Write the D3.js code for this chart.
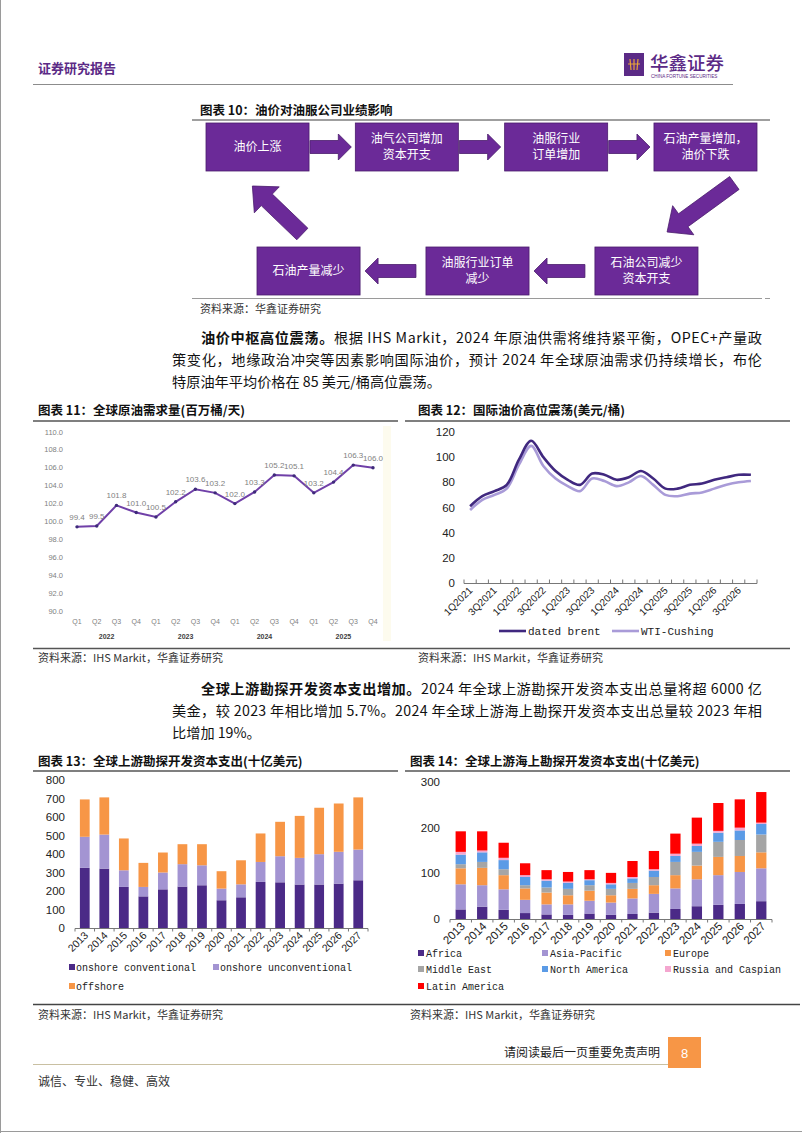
<!DOCTYPE html>
<html><head><meta charset="utf-8">
<script src="https://cdn.jsdelivr.net/npm/d3@7"></script>
<style>
body{margin:0;background:#fff;}
svg{display:block;font-family:"Noto Sans CJK SC","Liberation Sans",sans-serif;}
</style></head><body>
<svg id="page" width="802" height="1133"></svg>
<script>
// ---------------- DATA ----------------
const flowTop = ["油价上涨", "油气公司增加\n资本开支", "油服行业\n订单增加", "石油产量增加，\n油价下跌"];
const flowBottom = ["石油产量减少", "油服行业订单\n减少", "石油公司减少\n资本开支"];

const demandQuarters = ["Q1","Q2","Q3","Q4","Q1","Q2","Q3","Q4","Q1","Q2","Q3","Q4","Q1","Q2","Q3","Q4"];
const demandYears = ["2022","2023","2024","2025"];
const demandValues = [99.4,99.5,101.8,101.0,100.5,102.2,103.6,103.2,102.0,103.3,105.2,105.1,103.2,104.4,106.3,106.0];
const demandTicks = [90,92,94,96,98,100,102,104,106,108,110];

const priceQuarters = ["1Q2021","2Q2021","3Q2021","4Q2021","1Q2022","2Q2022","3Q2022","4Q2022",
  "1Q2023","2Q2023","3Q2023","4Q2023","1Q2024","2Q2024","3Q2024","4Q2024",
  "1Q2025","2Q2025","3Q2025","4Q2025","1Q2026","2Q2026","3Q2026","4Q2026"];
const brentValues = [61,69,73,78,98,113,100,89,82,78,87,86,82,84,89,83,75,75,78,79,82,84,86,86];
const wtiValues   = [58,66,70,75,94,109,93,83,77,73,83,81,77,80,85,78,70,69,71,72,75,78,80,81];
const priceTicks = [0,20,40,60,80,100,120];
const priceSeriesNames = ["dated brent","WTI-Cushing"];

const capexYears = ["2013","2014","2015","2016","2017","2018","2019","2020","2021","2022","2023","2024","2025","2026","2027"];
const onshoreConventional   = [325,321,222,171,209,224,231,150,166,249,247,235,235,240,258];
const onshoreUnconventional = [168,184,90,51,91,121,108,63,70,108,141,144,164,172,166];
const offshoreValues        = [202,201,172,130,108,108,114,94,130,154,186,227,251,261,282];
const capexSeriesNames = ["onshore conventional","onshore unconventional","offshore"];
const capexTicks = [0,100,200,300,400,500,600,700,800];

const regionNames = ["Africa","Asia-Pacific","Europe","Middle East","North America","Russia and Caspian","Latin America"];
const africa       = [21,27,20,13,10,9,12,9,11,14,22,28,31,33,39];
const asiaPacific  = [55,47,45,29,22,23,28,27,34,41,45,59,65,70,72];
const europe       = [35,38,31,25,26,20,22,16,21,19,29,30,40,35,35];
const middleEast   = [9,13,13,7,11,14,12,14,13,18,29,30,33,35,39];
const northAmerica = [21,21,20,18,15,13,11,10,10,14,13,13,20,21,23];
const russiaCaspian= [6,4,5,4,3,3,2,3,3,3,5,5,4,6,3];
const latinAmerica = [45,42,33,26,20,21,20,22,35,40,44,57,61,62,67];
const offshoreTicks = [0,100,200,300];

// ---------------- PAGE ----------------
const svg = d3.select("#page");
const PURPLE = "#5B2A86";
const CJK = '"Noto Sans CJK SC","Liberation Sans",sans-serif';
const MONO = '"Liberation Mono","DejaVu Sans Mono",monospace';
const SANS = '"Liberation Sans","DejaVu Sans",sans-serif';

function line(x1,y1,x2,y2,stroke,w){
  svg.append("line").attr("x1",x1).attr("y1",y1).attr("x2",x2).attr("y2",y2)
    .attr("stroke",stroke).attr("stroke-width",w||1);
}
function text(x,y,s,opt){
  opt = opt||{};
  const t = svg.append("text").attr("x",x).attr("y",y).text(s)
    .attr("font-size",opt.size||12).attr("fill",opt.fill||"#222")
    .attr("font-family",opt.family||CJK)
    .attr("font-weight",opt.weight||400)
    .attr("text-anchor",opt.anchor||"start");
  return t;
}

// page border
line(0.5,0,0.5,1133,"#9a9a9a",1);
line(0,1131.5,802,1131.5,"#9a9a9a",1);

// header
text(38,73,"证券研究报告",{size:13,weight:700,fill:PURPLE});
line(33,84.5,733,84.5,"#8c8c8c",1);
svg.append("rect").attr("x",624).attr("y",53).attr("width",20).attr("height",23).attr("fill",PURPLE);
const logo = svg.append("g").attr("stroke","#E8A33A").attr("stroke-width",1.2).attr("fill","none");
logo.append("path").attr("d","M628 64 H640 M630 59 L631 70 M634 59 L634 70 M638 59 L637 70");
text(650,70,"华鑫证券",{size:18.5,weight:500,fill:PURPLE});
text(651,78,"CHINA FORTUNE SECURITIES",{size:4.6,fill:PURPLE,family:SANS});

// ---------------- FLOWCHART ----------------
text(200,115,"图表 10：油价对油服公司业绩影响",{size:12.5,weight:700,fill:"#111"});
line(192,120,770,120,"#7f7f7f",1.5);

const BOX_FILL = "#6B2A98";
const topBand = d3.scaleBand().domain(d3.range(flowTop.length)).range([206,757]).paddingInner(0.31);
const botBand = d3.scaleBand().domain(d3.range(flowBottom.length)).range([257,698]).paddingInner(0.39);
const topY = 123, botY = 247, boxH = 48;

function drawBox(x,y,w,h,label){
  svg.append("rect").attr("x",x).attr("y",y).attr("width",w).attr("height",h)
    .attr("fill",BOX_FILL).attr("stroke","#4a1c6c").attr("stroke-width",0.8);
  const parts = label.split("\n");
  const t = svg.append("text").attr("text-anchor","middle").attr("fill","#fff")
    .attr("font-size",12).attr("font-family",CJK);
  parts.forEach((p,i)=>{
    t.append("tspan").attr("x",x+w/2).attr("y",y+h/2+4+(i-(parts.length-1)/2)*16).text(p);
  });
}
function arrow(x1,y1,x2,y2,sw,hw,hl){
  const dx=x2-x1, dy=y2-y1, L=Math.hypot(dx,dy);
  const ux=dx/L, uy=dy/L, nx=-uy, ny=ux;
  const bx=x2-ux*hl, by=y2-uy*hl;
  const pts=[[x1+nx*sw,y1+ny*sw],[bx+nx*sw,by+ny*sw],[bx+nx*hw,by+ny*hw],[x2,y2],
             [bx-nx*hw,by-ny*hw],[bx-nx*sw,by-ny*sw],[x1-nx*sw,y1-ny*sw]];
  svg.append("path").attr("d","M"+pts.map(p=>p.join(",")).join("L")+"Z")
    .attr("fill",BOX_FILL).attr("stroke","#4a1c6c").attr("stroke-width",0.8);
}
flowTop.forEach((lab,i)=>drawBox(topBand(i),topY,topBand.bandwidth(),boxH,lab));
flowBottom.forEach((lab,i)=>drawBox(botBand(i),botY,botBand.bandwidth(),boxH,lab));
for(let i=0;i<flowTop.length-1;i++){
  arrow(topBand(i)+topBand.bandwidth()+1, topY+boxH/2, topBand(i+1)-4, topY+boxH/2, 6.5,13,13);
}
for(let i=flowBottom.length-1;i>0;i--){
  arrow(botBand(i)-10, botY+boxH/2, botBand(i-1)+botBand.bandwidth()+5, botY+boxH/2, 6.5,13,13);
}
{
  const bw = topBand.bandwidth();
  arrow(topBand(3)+bw*0.78, topY+boxH+12, botBand(2)+botBand.bandwidth()*0.7, botY-15, 8,18,20);
  arrow(botBand(0)+botBand.bandwidth()*0.44, botY-13, topBand(0)+bw*0.45, topY+boxH+15, 8,18,20);
}
line(192,298.5,762,298.5,"#9a9a9a",1);
line(765,298.5,770,298.5,"#9a9a9a",1);
text(200,313,"资料来源：华鑫证券研究",{size:11,fill:"#333"});

// ---------------- PARAGRAPH 1 ----------------
function para(x,y,bold,rest,len){
  const t = svg.append("text").attr("x",x).attr("y",y).attr("font-size",14.2)
    .attr("font-family",CJK).attr("fill","#111");
  if(bold) t.append("tspan").attr("font-weight",700).text(bold);
  t.append("tspan").text(rest);
  if(len) t.attr("textLength",len).attr("lengthAdjust","spacing");
}
para(201,343,"油价中枢高位震荡。","根据 IHS Markit，2024 年原油供需将维持紧平衡，OPEC+产量政",561);
para(172,365,null,"策变化，地缘政治冲突等因素影响国际油价，预计 2024 年全球原油需求仍持续增长，布伦",590);
para(172,387,null,"特原油年平均价格在 85 美元/桶高位震荡。");

// ---------------- CHART 11 ----------------
text(38,415,"图表 11：全球原油需求量(百万桶/天)",{size:12.5,weight:700,fill:"#111"});
line(33,421,398,421,"#555",1.5);
{
  const x = d3.scalePoint().domain(d3.range(demandValues.length)).range([77,373]);
  const y = d3.scaleLinear().domain([90,110]).range([611,432]);
  const g = svg.append("g");
  g.append("rect").attr("x",383).attr("y",426).attr("width",8).attr("height",215).attr("fill","#FDFBEE");
  g.selectAll(".yl").data(demandTicks).join("text")
    .attr("x",63).attr("y",d=>y(d)+2.5).attr("text-anchor","end")
    .attr("font-size",7.5).attr("font-family",SANS).attr("fill","#7f7f7f")
    .text(d=>d3.format(".1f")(d));
  g.selectAll(".xl").data(demandQuarters).join("text")
    .attr("x",(d,i)=>x(i)).attr("y",624).attr("text-anchor","middle")
    .attr("font-size",7).attr("font-family",SANS).attr("fill","#7f7f7f").text(d=>d);
  g.selectAll(".yr").data(demandYears).join("text")
    .attr("x",(d,i)=>(x(i*4)+x(i*4+3))/2).attr("y",639).attr("text-anchor","middle")
    .attr("font-size",7).attr("font-weight",700).attr("font-family",SANS).attr("fill","#404040").text(d=>d);
  g.append("path").datum(demandValues)
    .attr("d",d3.line().x((d,i)=>x(i)).y(d=>y(d)))
    .attr("fill","none").attr("stroke","#7040A8").attr("stroke-width",2);
  g.selectAll(".pt").data(demandValues).join("circle")
    .attr("cx",(d,i)=>x(i)).attr("cy",d=>y(d)).attr("r",1.7).attr("fill","#3E2A7A");
  g.selectAll(".dl").data(demandValues).join("text")
    .attr("x",(d,i)=>x(i)).attr("y",d=>y(d)-7).attr("text-anchor","middle")
    .attr("font-size",8).attr("font-family",SANS).attr("fill","#7f7f7f")
    .text(d=>d3.format(".1f")(d));
}

// ---------------- CHART 12 ----------------
text(418,415,"图表 12：国际油价高位震荡(美元/桶)",{size:12.5,weight:700,fill:"#111"});
line(405,421,790,421,"#555",1.5);
{
  const x = d3.scaleBand().domain(priceQuarters).range([464,757]);
  const y = d3.scaleLinear().domain([0,120]).range([583,432]);
  const g = svg.append("g");
  g.selectAll(".yl").data(priceTicks).join("text")
    .attr("x",455).attr("y",d=>y(d)+4).attr("text-anchor","end")
    .attr("font-size",11.5).attr("font-family",SANS).attr("fill","#222").text(d=>d);
  g.append("line").attr("x1",464).attr("x2",757).attr("y1",583.5).attr("y2",583.5).attr("stroke","#777");
  const bounds = priceQuarters.map(q=>x(q)).concat([757]);
  g.selectAll(".tk").data(bounds).join("line")
    .attr("x1",d=>d).attr("x2",d=>d).attr("y1",583.5).attr("y2",579.5).attr("stroke","#777");
  g.selectAll(".xl").data(priceQuarters.filter((d,i)=>i%2===0)).join("text")
    .attr("transform",d=>`translate(${x(d)+x.bandwidth()/2+3},${591}) rotate(-45)`)
    .attr("text-anchor","end").attr("font-size",10).attr("font-family",SANS).attr("fill","#222").text(d=>d);
  const ln = d3.line().x((d,i)=>x(priceQuarters[i])+x.bandwidth()/2).y(d=>y(d)).curve(d3.curveCatmullRom.alpha(0.5));
  g.append("path").datum(wtiValues).attr("d",ln).attr("fill","none").attr("stroke","#A99BD8").attr("stroke-width",2.6);
  g.append("path").datum(brentValues).attr("d",ln).attr("fill","none").attr("stroke","#40287F").attr("stroke-width",2.6);
  // legend
  const lc = ["#40287F","#A99BD8"], lx=[499,612];
  priceSeriesNames.forEach((n,i)=>{
    g.append("line").attr("x1",lx[i]).attr("x2",lx[i]+27).attr("y1",631).attr("y2",631).attr("stroke",lc[i]).attr("stroke-width",2.6);
    g.append("text").attr("x",lx[i]+29).attr("y",635).attr("font-size",11).attr("font-family",MONO).attr("fill","#222").text(n);
  });
}
line(33,648.5,790,648.5,"#555",1.5);
text(38,662,"资料来源：IHS Markit，华鑫证券研究",{size:11,fill:"#333"});
text(418,662,"资料来源：IHS Markit，华鑫证券研究",{size:11,fill:"#333"});

// ---------------- PARAGRAPH 2 ----------------
para(201,694,"全球上游勘探开发资本支出增加。","2024 年全球上游勘探开发资本支出总量将超 6000 亿",561);
para(172,716,null,"美金，较 2023 年相比增加 5.7%。2024 年全球上游海上勘探开发资本支出总量较 2023 年相",590);
para(172,738,null,"比增加 19%。");

// ---------------- CHART 13 ----------------
text(38,766,"图表 13：全球上游勘探开发资本支出(十亿美元)",{size:12.5,weight:700,fill:"#111"});
line(33,771,398,771,"#555",1.5);
{
  const x = d3.scaleBand().domain(capexYears).range([75,368]).paddingInner(0.5).paddingOuter(0.25);
  const y = d3.scaleLinear().domain([0,800]).range([928,780]);
  const g = svg.append("g");
  g.selectAll(".yl").data(capexTicks).join("text")
    .attr("x",65).attr("y",d=>y(d)+4).attr("text-anchor","end")
    .attr("font-size",11.5).attr("font-family",SANS).attr("fill","#222").text(d=>d);
  const rows = capexYears.map((yr,i)=>({year:yr,conv:onshoreConventional[i],unconv:onshoreUnconventional[i],off:offshoreValues[i]}));
  const stack = d3.stack().keys(["conv","unconv","off"])(rows);
  const colors = ["#4B2A87","#A394D2","#F79646"];
  stack.forEach((s,k)=>{
    g.selectAll(".b"+k).data(s).join("rect")
      .attr("x",d=>x(d.data.year)).attr("width",x.bandwidth())
      .attr("y",d=>y(d[1])).attr("height",d=>y(d[0])-y(d[1])).attr("fill",colors[k]);
  });
  g.append("line").attr("x1",75).attr("x2",368).attr("y1",928.5).attr("y2",928.5).attr("stroke","#777");
  const bounds = d3.range(capexYears.length+1).map(i=>75+i*(293/capexYears.length));
  g.selectAll(".tk").data(bounds).join("line")
    .attr("x1",d=>d).attr("x2",d=>d).attr("y1",928.5).attr("y2",931.5).attr("stroke","#777");
  g.selectAll(".xl").data(capexYears).join("text")
    .attr("transform",d=>`translate(${x(d)+x.bandwidth()/2+4},${936}) rotate(-45)`)
    .attr("text-anchor","end").attr("font-size",10.5).attr("font-family",SANS).attr("fill","#222").text(d=>d);
  const lpos = [[69,971],[213,971],[69,990]];
  capexSeriesNames.forEach((n,i)=>{
    g.append("rect").attr("x",lpos[i][0]).attr("y",lpos[i][1]-7).attr("width",6).attr("height",6).attr("fill",colors[i]);
    g.append("text").attr("x",lpos[i][0]+7).attr("y",lpos[i][1]).attr("font-size",10)
      .attr("font-family",MONO).attr("fill","#222").text(n);
  });
}

// ---------------- CHART 14 ----------------
text(410,766,"图表 14：全球上游海上勘探开发资本支出(十亿美元)",{size:12.5,weight:700,fill:"#111"});
line(405,771,790,771,"#555",1.5);
{
  const x = d3.scaleBand().domain(capexYears).range([450,772]).paddingInner(0.52).paddingOuter(0.26);
  const y = d3.scaleLinear().domain([0,300]).range([919,782]);
  const g = svg.append("g");
  g.selectAll(".yl").data(offshoreTicks).join("text")
    .attr("x",440).attr("y",d=>y(d)+4).attr("text-anchor","end")
    .attr("font-size",11.5).attr("font-family",SANS).attr("fill","#222").text(d=>d);
  const series = [africa,asiaPacific,europe,middleEast,northAmerica,russiaCaspian,latinAmerica];
  const rows = capexYears.map((yr,i)=>{
    const r = {year:yr};
    regionNames.forEach((n,k)=>r[n]=series[k][i]);
    return r;
  });
  const stack = d3.stack().keys(regionNames)(rows);
  const colors = ["#4B2A87","#A394D2","#F79646","#A5A5A5","#5B9BE6","#F4A6CF","#FF0000"];
  stack.forEach((s,k)=>{
    g.selectAll(".b"+k).data(s).join("rect")
      .attr("x",d=>x(d.data.year)).attr("width",x.bandwidth())
      .attr("y",d=>y(d[1])).attr("height",d=>y(d[0])-y(d[1])).attr("fill",colors[k]);
  });
  g.append("line").attr("x1",450).attr("x2",772).attr("y1",919.5).attr("y2",919.5).attr("stroke","#777");
  const bounds = d3.range(capexYears.length+1).map(i=>450+i*(322/capexYears.length));
  g.selectAll(".tk").data(bounds).join("line")
    .attr("x1",d=>d).attr("x2",d=>d).attr("y1",919.5).attr("y2",922.5).attr("stroke","#777");
  g.selectAll(".xl").data(capexYears).join("text")
    .attr("transform",d=>`translate(${x(d)+x.bandwidth()/2+5},${927}) rotate(-45)`)
    .attr("text-anchor","end").attr("font-size",11.5).attr("font-family",SANS).attr("fill","#222").text(d=>d);
  const cols = [418,542,665], rowsY=[957,973,990];
  regionNames.forEach((n,i)=>{
    const cx = cols[i%3], cy = rowsY[Math.floor(i/3)];
    g.append("rect").attr("x",cx).attr("y",cy-7).attr("width",6).attr("height",6).attr("fill",colors[i]);
    g.append("text").attr("x",cx+8).attr("y",cy).attr("font-size",10)
      .attr("font-family",MONO).attr("fill","#222").text(n);
  });
}
line(33,1004.5,800,1004.5,"#444",1.5);
text(38,1019,"资料来源：IHS Markit，华鑫证券研究",{size:11,fill:"#333"});
text(410,1019,"资料来源：IHS Markit，华鑫证券研究",{size:11,fill:"#333"});

// ---------------- FOOTER ----------------
text(660,1057,"请阅读最后一页重要免责声明",{size:12,fill:"#222",anchor:"end"});
line(33,1064.5,668,1064.5,"#C9C0A2",1);
svg.append("rect").attr("x",668).attr("y",1037).attr("width",33).attr("height",31).attr("fill","#F79646");
text(684.5,1058,"8",{size:13,fill:"#fff",anchor:"middle",family:SANS});
text(38,1086,"诚信、专业、稳健、高效",{size:12,fill:"#333"});
</script>
</body></html>
